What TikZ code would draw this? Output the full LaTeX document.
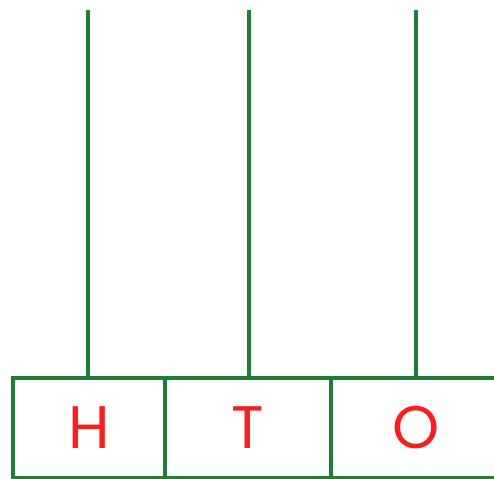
\documentclass[tikz,border=0pt]{standalone}
\usepackage{fontspec}
\setsansfont{Poppins}
\usepackage{tikz}
\usetikzlibrary{positioning}
\definecolor{rodgreen}{RGB}{30,125,55}
\definecolor{digitred}{RGB}{250,30,30}
\tikzset{
  cell/.style={draw=rodgreen,line width=3.5pt,outer sep=0pt,inner sep=0pt,
    minimum height=100pt,text=digitred,font=\sffamily\fontsize{60}{60}\selectfont},
  rod/.style={draw=rodgreen,line width=3.5pt}
}

\begin{document}
\begin{tikzpicture}[x=1pt,y=1pt]
\useasboundingbox (0,0) rectangle (494,478);
\clip (0,0) rectangle (494,478);
% place value cells
\node[cell,minimum width=152pt] (h) at (89,50) {H};
\node[cell,minimum width=166pt,right=0pt of h] (t) {T};
\node[cell,minimum width=170pt,right=0pt of t] (o) {O};
% rods
\coordinate (hTop) at (88,468);
\coordinate (tTop) at (249,468);
\coordinate (oTop) at (416,468);
\draw[rod] (hTop |- h.north) -- (hTop);
\draw[rod] (tTop |- t.north) -- (tTop);
\draw[rod] (oTop |- o.north) -- (oTop);
\end{tikzpicture}
\end{document}
